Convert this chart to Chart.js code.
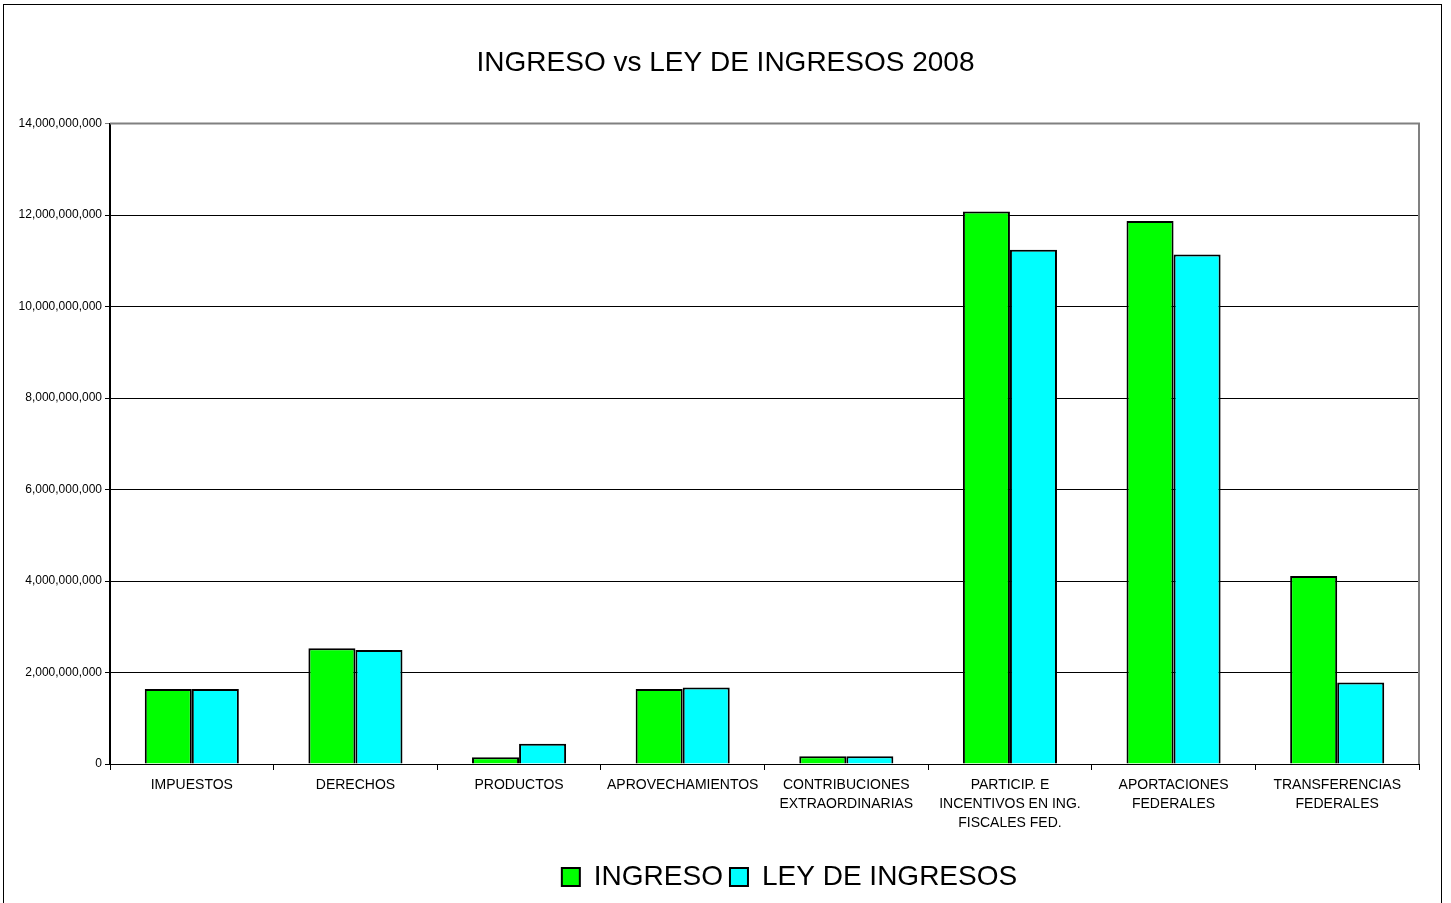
<!DOCTYPE html>
<html>
<head>
<meta charset="utf-8">
<script src="https://cdn.jsdelivr.net/npm/chart.js@4"></script>
<style>
  html, body { margin: 0; padding: 0; background: #fff; }
  #wrap { position: relative; width: 1451px; height: 903px; }
  #marco { position: absolute; left: 3px; top: 4px; width: 1437px; height: 910px; border: 1.5px solid #000; pointer-events: none; }
</style>
</head>
<body>
<div id="wrap">
  <canvas id="grafico" width="1451" height="903"></canvas>
  <div id="marco"></div>
</div>
<script>
// Datos
const categorias = [
    "IMPUESTOS", "DERECHOS", "PRODUCTOS", "APROVECHAMIENTOS",
    ["CONTRIBUCIONES", "EXTRAORDINARIAS"],
    ["PARTICIP. E", "INCENTIVOS EN ING.", "FISCALES FED."],
    ["APORTACIONES", "FEDERALES"],
    ["TRANSFERENCIAS", "FEDERALES"]
];
const ingreso = [
    1640000000, 2530000000, 150000000, 1640000000,
    170000000, 12080000000, 11870000000, 4110000000
];
const leyIngresos = [
    1640000000, 2490000000, 440000000, 1670000000,
    170000000, 11240000000, 11140000000, 1780000000
];
const yMax = 14000000000;
const yPaso = 2000000000;

Chart.defaults.font.family = "'Liberation Sans', Arial, sans-serif";
Chart.defaults.color = '#000';

// Marco gris superior y derecho del area de trazado
const marcoArea = {
    id: 'marcoArea',
    beforeDatasetsDraw(chart) {
        const { ctx, chartArea } = chart;
        ctx.save();
        ctx.strokeStyle = '#808080';
        ctx.lineWidth = 2;
        ctx.beginPath();
        ctx.moveTo(chartArea.left, chartArea.top);
        ctx.lineTo(chartArea.right, chartArea.top);
        ctx.lineTo(chartArea.right, chartArea.bottom);
        ctx.stroke();
        ctx.restore();
    }
};

// La leyenda del original esta corrida a la derecha del centro
const leyendaDesplazada = {
    id: 'leyendaDesplazada',
    afterLayout(chart) {
        const dx = 64;
        chart.legend.left += dx;
        chart.legend.right += dx;
    }
};

function formatoNumero(valor) {
    return new Intl.NumberFormat('en-US').format(valor);
}

new Chart(document.getElementById('grafico'), {
    type: 'bar',
    data: {
        labels: categorias,
        datasets: [
            {
                label: 'INGRESO',
                data: ingreso,
                backgroundColor: '#00FF00',
                borderColor: '#000',
                borderWidth: 2
            },
            {
                label: 'LEY DE INGRESOS',
                data: leyIngresos,
                backgroundColor: '#00FFFF',
                borderColor: '#000',
                borderWidth: 2
            }
        ]
    },
    options: {
        responsive: false,
        animation: false,
        layout: { padding: { left: 0, right: 0, top: 0, bottom: 2 } },
        datasets: {
            bar: { barPercentage: 1, categoryPercentage: 0.575 }
        },
        scales: {
            x: {
                grid: {
                    offset: true,
                    drawOnChartArea: false,
                    color: '#000',
                    tickLength: 6
                },
                border: { color: '#000', width: 1 },
                ticks: {
                    font: { size: 14, lineHeight: 1.35 },
                    maxRotation: 0,
                    autoSkip: false,
                    padding: 6
                },
                afterFit(scale) { scale.height = 92; }
            },
            y: {
                min: 0,
                max: yMax,
                ticks: {
                    stepSize: yPaso,
                    font: { size: 12 },
                    padding: 3,
                    callback: (v) => formatoNumero(v)
                },
                grid: {
                    color: (c) => c.tick && c.tick.value === yMax ? '#808080' : '#000',
                    tickLength: 5
                },
                border: { color: '#000', width: 2 },
                afterFit(scale) { scale.width = 110; }
            },
            margen: {
                position: 'right',
                ticks: { display: false },
                grid: { display: false },
                border: { display: false },
                afterFit(scale) { scale.width = 32; }
            }
        },
        plugins: {
            title: {
                display: true,
                text: 'INGRESO vs LEY DE INGRESOS 2008',
                font: { size: 28, weight: 'normal' },
                color: '#000',
                padding: { top: 46, bottom: 44 }
            },
            legend: {
                position: 'bottom',
                labels: {
                    font: { size: 28 },
                    boxWidth: 18,
                    boxHeight: 18,
                    padding: 7,
                    color: '#000'
                }
            },
            tooltip: { enabled: false }
        }
    },
    plugins: [marcoArea, leyendaDesplazada]
});
</script>
</body>
</html>
